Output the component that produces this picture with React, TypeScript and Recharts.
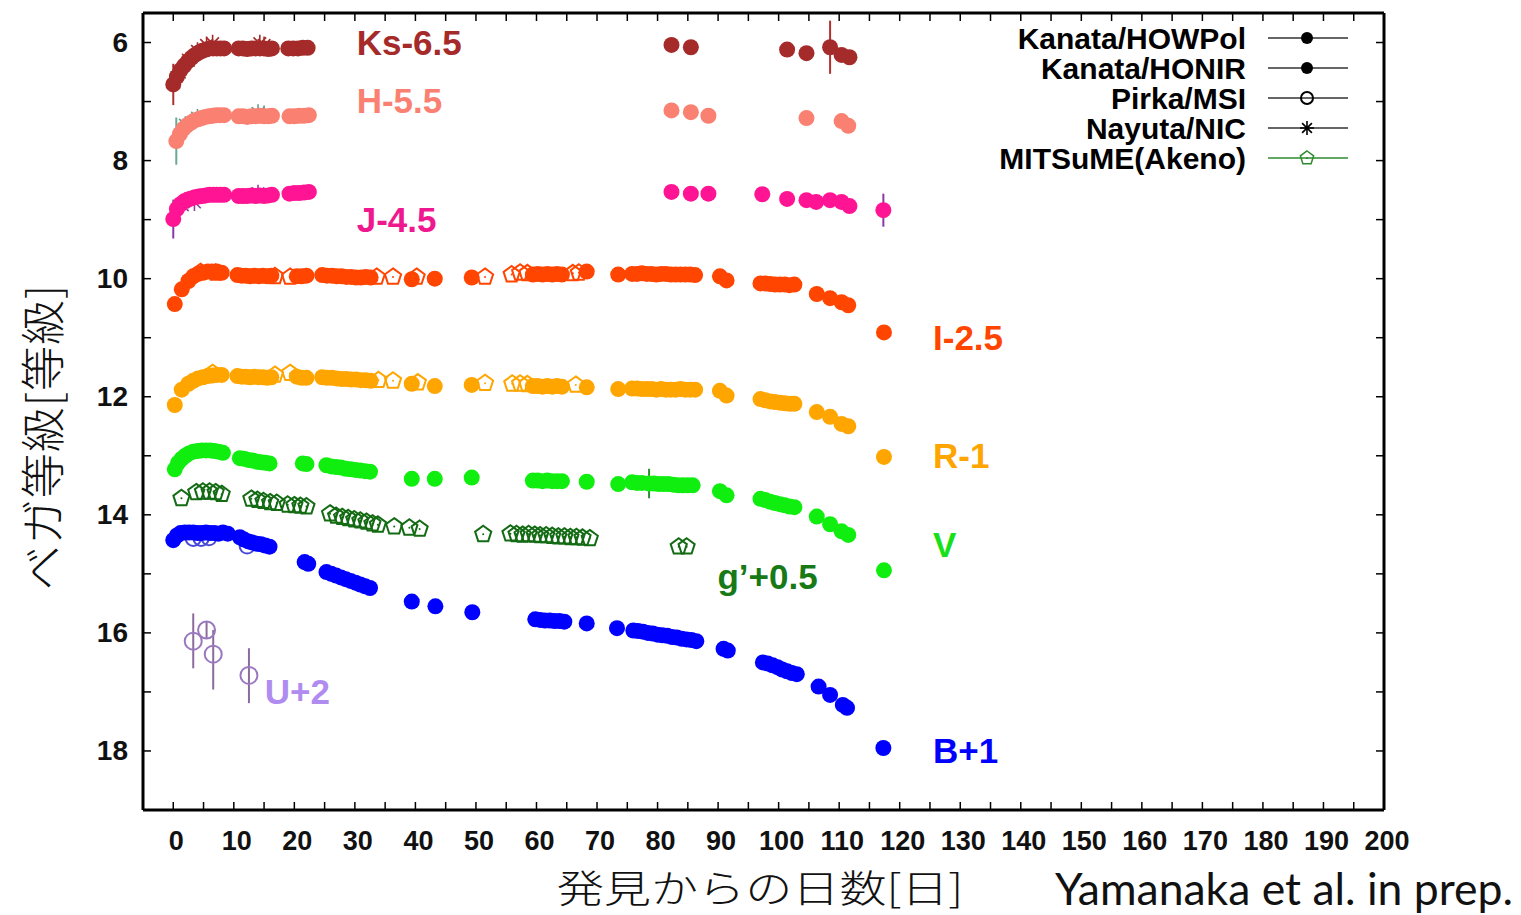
import React from 'react';
import { ScatterChart, Scatter, XAxis, YAxis, ErrorBar, ReferenceDot } from 'recharts';

// [days since discovery, magnitude with offset, error (or low, high)]
const ksHonir = [
  [0, 6.71, 0.35], [0.6, 6.58], [1.2, 6.47], [1.8, 6.39], [2.4, 6.32], [3.0, 6.26], [3.6, 6.21],
  [4.2, 6.17], [4.8, 6.14], [5.4, 6.12], [6.0, 6.1], [6.6, 6.1], [7.2, 6.1], [7.8, 6.1], [8.4, 6.1],
  [10.8, 6.1], [11.5, 6.1], [12.2, 6.11], [12.9, 6.1], [13.6, 6.1], [14.3, 6.1], [15.0, 6.1], [15.7, 6.11], [16.3, 6.1],
  [19.0, 6.1], [19.8, 6.1], [20.6, 6.1], [21.4, 6.09], [22.2, 6.09],
  [82.3, 6.04], [85.5, 6.08], [101.4, 6.12], [104.6, 6.18], [108.5, 6.08, 0.45], [110.4, 6.21], [111.7, 6.25],
];
const ksNic = [[1.0, 6.5], [2.5, 6.3], [4.0, 6.15], [5.5, 6.05], [6.5, 6.02], [14.3, 6.02], [15.0, 6.05]];

const hHonir = [
  [0.5, 7.67, 0.4], [1.1, 7.55], [1.7, 7.46], [2.3, 7.4], [2.9, 7.36], [3.5, 7.32], [4.1, 7.3], [4.7, 7.28],
  [5.3, 7.26], [5.9, 7.25], [6.5, 7.24], [7.1, 7.23], [7.7, 7.23], [8.4, 7.23],
  [10.8, 7.25], [11.5, 7.25], [12.2, 7.26], [12.9, 7.25], [13.6, 7.25], [14.3, 7.24], [15.0, 7.25], [15.7, 7.25], [16.3, 7.24],
  [19.2, 7.25], [20.0, 7.25], [20.8, 7.24], [21.6, 7.24], [22.4, 7.23],
  [82.3, 7.15], [85.5, 7.18], [88.4, 7.24], [104.6, 7.28], [110.4, 7.33], [111.5, 7.41, 0.08],
];
const hNic = [[2.0, 7.4], [4.0, 7.28], [14.0, 7.2], [15.0, 7.22]];

const jHonir = [
  [0, 8.99, 0.33], [0.6, 8.82], [1.2, 8.74], [1.8, 8.69], [2.4, 8.66], [3.0, 8.64], [3.6, 8.62], [4.2, 8.61],
  [4.8, 8.6], [5.4, 8.59], [6.0, 8.58], [6.6, 8.58], [7.2, 8.58], [7.8, 8.58], [8.4, 8.58],
  [10.8, 8.6], [11.5, 8.6], [12.2, 8.6], [12.9, 8.59], [13.6, 8.6], [14.3, 8.59], [15.0, 8.6], [15.7, 8.59], [16.3, 8.58],
  [19.2, 8.56], [20.0, 8.55], [20.8, 8.55], [21.6, 8.54], [22.4, 8.53],
  [82.3, 8.53], [85.5, 8.56], [88.4, 8.56], [97.3, 8.57], [101.4, 8.65], [104.6, 8.67], [106.2, 8.7],
  [108.5, 8.67], [110.4, 8.7], [111.7, 8.77], [117.3, 8.84, 0.28],
];
const jNic = [[1.5, 8.75], [3.5, 8.7], [14.0, 8.56]];

const iHowpol = [
  [0.25, 10.43], [1.4, 10.18], [2.5, 10.04], [3.3, 9.96], [4.1, 9.92], [4.9, 9.9], [5.7, 9.88], [6.4, 9.88], [7.2, 9.88], [8.0, 9.9],
  [10.6, 9.94], [11.3, 9.95], [12.0, 9.95], [12.7, 9.96], [13.4, 9.95], [14.1, 9.96], [14.8, 9.95], [15.5, 9.96], [16.2, 9.95],
  [20.4, 9.96], [21.2, 9.96], [22.0, 9.95],
  [24.6, 9.94], [25.4, 9.95], [26.2, 9.95], [27.0, 9.96], [27.8, 9.96], [28.6, 9.97], [29.4, 9.97], [30.2, 9.98], [31.0, 9.98], [31.8, 9.97], [32.6, 9.98],
  [39.4, 10.01], [43.2, 10.0], [49.3, 9.98],
  [59.4, 9.93], [60.2, 9.92], [61.0, 9.93], [61.8, 9.92], [62.6, 9.93], [63.4, 9.92], [64.2, 9.93], [68.3, 9.88], [73.5, 9.93],
  [75.8, 9.92], [76.6, 9.92], [77.4, 9.91], [78.2, 9.92], [79.0, 9.92], [79.8, 9.93], [80.6, 9.92], [81.4, 9.92],
  [82.2, 9.93], [83.0, 9.93], [83.8, 9.93], [84.6, 9.93], [85.4, 9.93], [86.2, 9.94],
  [90.3, 9.96], [91.4, 10.03],
  [97.0, 10.08], [97.8, 10.08], [98.6, 10.09], [99.4, 10.1], [100.2, 10.1], [101.0, 10.1], [101.8, 10.11], [102.6, 10.1],
  [106.3, 10.26], [108.5, 10.33], [110.4, 10.4], [111.5, 10.45], [117.4, 10.91],
];
const iMitsume = [
  [4.5, 9.89], [7.0, 9.9], [16.8, 9.96], [19.3, 9.97], [33.6, 9.97], [36.3, 9.97], [40.2, 9.97], [51.5, 9.97],
  [55.9, 9.93], [57.3, 9.9], [58.5, 9.91], [66.0, 9.91], [67.0, 9.9],
];

const rHowpol = [
  [0.25, 12.14], [1.4, 11.88], [2.5, 11.78], [3.3, 11.73], [4.1, 11.69], [4.9, 11.67], [5.7, 11.65], [6.4, 11.64], [7.2, 11.63], [8.0, 11.63],
  [10.6, 11.65], [11.3, 11.66], [12.0, 11.66], [12.7, 11.67], [13.4, 11.66], [14.1, 11.67], [14.8, 11.67], [15.5, 11.68], [16.2, 11.67],
  [20.4, 11.66], [21.2, 11.68], [22.0, 11.68],
  [24.6, 11.67], [25.4, 11.68], [26.2, 11.68], [27.0, 11.69], [27.8, 11.7], [28.6, 11.7], [29.4, 11.71], [30.2, 11.71], [31.0, 11.72], [31.8, 11.72], [32.6, 11.73],
  [39.4, 11.78], [43.2, 11.82], [49.3, 11.8],
  [59.4, 11.82], [60.2, 11.82], [61.0, 11.83], [61.8, 11.82], [62.6, 11.83], [63.4, 11.82], [64.2, 11.83], [68.3, 11.84], [73.5, 11.87],
  [75.8, 11.86], [76.6, 11.86], [77.4, 11.87], [78.2, 11.87], [79.0, 11.87], [79.8, 11.88], [80.6, 11.87], [81.4, 11.88],
  [82.2, 11.88], [83.0, 11.88], [83.8, 11.87], [84.6, 11.88], [85.4, 11.88], [86.2, 11.88],
  [90.3, 11.9], [91.4, 11.98],
  [97.0, 12.04], [97.8, 12.06], [98.6, 12.08], [99.4, 12.09], [100.2, 12.1], [101.0, 12.11], [101.8, 12.12], [102.6, 12.12],
  [106.3, 12.26], [108.5, 12.34], [110.4, 12.46], [111.5, 12.5], [117.4, 13.02],
];
const rMitsume = [
  [6.5, 11.6], [16.8, 11.63], [19.3, 11.6], [33.9, 11.72], [36.3, 11.73], [40.4, 11.76], [51.5, 11.77],
  [56.0, 11.78], [57.3, 11.78], [58.5, 11.79], [66.5, 11.8],
];

const vHowpol = [
  [0.25, 13.23], [0.8, 13.12], [1.4, 13.05], [2.0, 13.0], [2.6, 12.96], [3.3, 12.93], [4.0, 12.92], [4.7, 12.91],
  [5.4, 12.91], [6.1, 12.91], [6.8, 12.92], [7.5, 12.93], [8.2, 12.95],
  [11.0, 13.04], [11.7, 13.05], [12.4, 13.07], [13.1, 13.08], [13.8, 13.1], [14.5, 13.11], [15.2, 13.12], [15.9, 13.13],
  [21.4, 13.13], [22.0, 13.14],
  [25.3, 13.16], [26.1, 13.18], [26.9, 13.19], [27.7, 13.2], [28.5, 13.22], [29.3, 13.23], [30.1, 13.24], [30.9, 13.25], [31.7, 13.26], [32.5, 13.27],
  [39.4, 13.39], [43.2, 13.39], [49.3, 13.37],
  [59.4, 13.42], [60.2, 13.42], [61.0, 13.43], [61.8, 13.42], [62.6, 13.43], [63.4, 13.43], [64.2, 13.43], [68.3, 13.44], [73.5, 13.48],
  [75.8, 13.45], [76.6, 13.46], [77.4, 13.46], [78.6, 13.47, 0.25], [79.4, 13.47], [80.2, 13.48], [81.0, 13.48], [81.8, 13.48],
  [82.6, 13.49], [83.4, 13.5], [84.2, 13.5], [85.0, 13.5], [85.8, 13.5],
  [90.3, 13.6], [91.4, 13.67],
  [97.0, 13.73], [97.8, 13.75], [98.6, 13.78], [99.4, 13.8], [100.2, 13.82], [101.0, 13.84], [101.8, 13.86], [102.6, 13.87],
  [106.3, 14.03], [108.5, 14.16], [110.4, 14.28], [111.5, 14.34], [117.4, 14.94],
];

const gMitsume = [
  [1.35, 13.72], [3.8, 13.62], [4.9, 13.61], [6.0, 13.61], [7.0, 13.62], [8.0, 13.65],
  [12.9, 13.73], [13.9, 13.75], [14.9, 13.77], [16.0, 13.79], [17.1, 13.8],
  [18.9, 13.83], [20.0, 13.84], [21.0, 13.85], [22.0, 13.86],
  [25.9, 13.98], [26.9, 14.02], [27.9, 14.04], [28.9, 14.06], [29.9, 14.08], [30.9, 14.1], [31.9, 14.12], [32.9, 14.15], [33.8, 14.17],
  [36.5, 14.2], [39.0, 14.22], [40.7, 14.24], [51.2, 14.33],
  [55.7, 14.32], [56.7, 14.33], [57.7, 14.34], [58.7, 14.33], [59.7, 14.34], [60.6, 14.35], [61.6, 14.35], [62.6, 14.36],
  [63.6, 14.37], [64.6, 14.37], [65.6, 14.38], [66.6, 14.38], [67.6, 14.39], [68.8, 14.4],
  [83.5, 14.54], [84.8, 14.54],
];

const bHowpol = [
  [0, 14.43], [0.6, 14.35], [1.2, 14.31], [1.9, 14.3], [2.6, 14.3], [3.3, 14.3], [4.0, 14.31], [4.7, 14.31],
  [5.4, 14.3], [6.1, 14.31], [6.8, 14.31], [7.5, 14.32], [8.2, 14.3], [9.0, 14.32],
  [11.0, 14.38], [11.7, 14.42], [12.4, 14.45], [13.1, 14.47], [13.8, 14.49], [14.5, 14.5], [15.2, 14.52], [15.9, 14.54],
  [21.7, 14.8], [22.3, 14.83],
  [25.3, 14.97], [26.1, 15.0], [26.9, 15.03], [27.7, 15.06], [28.5, 15.09], [29.3, 15.12], [30.1, 15.15], [30.9, 15.18], [31.7, 15.21], [32.5, 15.24],
  [39.4, 15.47], [43.3, 15.55], [49.4, 15.65],
  [59.8, 15.77], [60.6, 15.78], [61.4, 15.79], [62.2, 15.79], [63.0, 15.8], [63.8, 15.8], [64.6, 15.81], [68.3, 15.84], [73.3, 15.92],
  [76.0, 15.96], [76.8, 15.97], [77.6, 15.98], [78.4, 16.0], [79.2, 16.01], [80.0, 16.03], [80.8, 16.04], [81.6, 16.05],
  [82.4, 16.07], [83.2, 16.08], [84.0, 16.1], [84.8, 16.11], [85.6, 16.12], [86.4, 16.14],
  [90.9, 16.27], [91.6, 16.3],
  [97.4, 16.5], [98.2, 16.52], [99.0, 16.55], [99.8, 16.58], [100.6, 16.62], [101.4, 16.65], [102.2, 16.68], [103.0, 16.7],
  [106.6, 16.91], [108.5, 17.05], [110.6, 17.22], [111.3, 17.27], [117.3, 17.95],
];
const bPirka = [[3.3, 14.4], [4.6, 14.4], [5.9, 14.39], [12.2, 14.53]];

const uPirka = [[3.3, 16.14, 0.47, 0.46], [5.5, 15.95, 0.15, 0.15], [6.6, 16.36, 0.41, 0.6], [12.5, 16.72, 0.46, 0.47]];

const dayTicks = [0, 5, 10, 15, 20, 25, 30, 35, 40, 45, 50, 55, 60, 65, 70, 75, 80, 85, 90, 95, 100,
  105, 110, 115, 120, 125, 130, 135, 140, 145, 150, 155, 160, 165, 170, 175, 180, 185, 190, 195, 200];
const magTicks = [6, 7, 8, 9, 10, 11, 12, 13, 14, 15, 16, 17, 18];

const bandNames = ['Ks-6.5', 'H-5.5', 'J-4.5', 'I-2.5', 'R-1', 'V', 'g\u2019+0.5', 'U+2', 'B+1'];
const bandDays = [30.3, 30.3, 30.3, 125.5, 125.5, 125.5, 89.9, 15.1, 125.5];
const bandMags = [6.0, 6.99, 8.99, 10.99, 12.99, 14.51, 15.05, 17.0, 18.0];

const legendNames = ['Kanata/HOWPol', 'Kanata/HONIR', 'Pirka/MSI', 'Nayuta/NIC', 'MITSuME(Akeno)'];

const C = {
  ks: '#a52a2a', h: '#fa8072', j: '#ff1493', i: '#ff4500', r: '#ffa500',
  v: '#10ee10', g: '#136b13', b: '#0000ff', u: '#9b7fc6',
};
const bandColors = [C.ks, C.h, '#f0188f', C.i, C.r, '#18e018', '#177a17', '#b08cf0', C.b];

const rows = (pts: number[][]) =>
  pts.map(([d, m, lo = 0, hi]) => ({ d, m, e: hi === undefined ? lo : [lo, hi] }));

const SANS = '"Liberation Sans", Arial, Helvetica, sans-serif';
const CJK = '"Noto Sans CJK JP", sans-serif';

const dot = (fill: string, r = 8) => (p: any) => <circle cx={p.cx} cy={p.cy} r={r} fill={fill} />;
const ring = (stroke: string, r = 7.5) => (p: any) => (
  <circle cx={p.cx} cy={p.cy} r={r} fill="none" stroke={stroke} strokeWidth={2} />
);
const pentagon = (stroke: string, r = 8.5, w = 2) => (p: any) => {
  const pts = [0, 1, 2, 3, 4]
    .map((k) => {
      const a = ((-90 + 72 * k) * Math.PI) / 180;
      return `${p.cx + r * Math.cos(a)},${p.cy + r * Math.sin(a)}`;
    })
    .join(' ');
  return (
    <g>
      <polygon points={pts} fill="none" stroke={stroke} strokeWidth={w} />
      <circle cx={p.cx} cy={p.cy} r={1} fill={stroke} />
    </g>
  );
};
const star = (stroke: string, s = 8) => (p: any) => (
  <path
    d={`M${p.cx - s},${p.cy}h${2 * s}M${p.cx},${p.cy - s}v${2 * s}M${p.cx - s * 0.7},${p.cy - s * 0.7}l${1.4 * s},${1.4 * s}M${p.cx - s * 0.7},${p.cy + s * 0.7}l${1.4 * s},${-1.4 * s}`}
    stroke={stroke}
    strokeWidth={1.6}
    fill="none"
  />
);

const series = [
  { data: ksNic, shape: star(C.ks, 9), err: C.ks },
  { data: hNic, shape: star('#5f9f8f', 9), err: C.h },
  { data: jNic, shape: star('#9040a0', 9), err: C.j },
  { data: ksHonir, shape: dot(C.ks), err: '#b03030' },
  { data: hHonir, shape: dot(C.h), err: '#6aa898' },
  { data: jHonir, shape: dot(C.j), err: '#8a3aa8' },
  { data: iHowpol, shape: dot(C.i), err: C.i },
  { data: iMitsume, shape: pentagon(C.i), err: C.i },
  { data: rHowpol, shape: dot(C.r), err: C.r },
  { data: rMitsume, shape: pentagon(C.r), err: C.r },
  { data: vHowpol, shape: dot(C.v), err: '#2e8b2e' },
  { data: gMitsume, shape: pentagon(C.g), err: C.g },
  { data: bPirka, shape: ring('#4a4ad8'), err: C.b },
  { data: bHowpol, shape: dot(C.b), err: C.b },
  { data: uPirka, shape: ring('#9a78c0', 8.5), err: '#8c6a9c' },
];

const legendMarkers = [
  dot('#000', 6),
  dot('#000', 6),
  ring('#000', 6),
  star('#000', 7),
  pentagon('#2e8b2e', 7, 1.5),
];

const TICK_LEN = 8;

const BottomTick = (p: any) => (
  <g>
    <line x1={p.x} y1={p.y} x2={p.x} y2={p.y - TICK_LEN} stroke="#000" strokeWidth={1.5} />
    {p.payload.value % 10 === 0 && (
      <text x={p.x + 3} y={p.y + 31} textAnchor="middle" dominantBaseline="central"
        fontFamily={SANS} fontWeight="bold" fontSize={27} fill="#111">
        {p.payload.value}
      </text>
    )}
  </g>
);
const TopTick = (p: any) => (
  <line x1={p.x} y1={p.y} x2={p.x} y2={p.y + TICK_LEN} stroke="#000" strokeWidth={1.5} />
);
const LeftTick = (p: any) => (
  <g>
    <line x1={p.x} y1={p.y} x2={p.x + TICK_LEN} y2={p.y} stroke="#000" strokeWidth={1.5} />
    {p.payload.value % 2 === 0 && (
      <text x={p.x - 15} y={p.y} textAnchor="end" dominantBaseline="central"
        fontFamily={SANS} fontWeight="bold" fontSize={28} fill="#111">
        {p.payload.value}
      </text>
    )}
  </g>
);
const RightTick = (p: any) => (
  <line x1={p.x} y1={p.y} x2={p.x - TICK_LEN} y2={p.y} stroke="#000" strokeWidth={1.5} />
);

const frame = { stroke: '#000', strokeWidth: 3 };

export default function App() {
  return (
    <div style={{ position: 'relative', width: 1513, height: 907 }}>
      <ScatterChart width={1513} height={907} margin={{ top: 4, right: 127, bottom: 45, left: 0 }}>
        <XAxis xAxisId="b" type="number" dataKey="d" domain={[-5, 200]} ticks={dayTicks} interval={0}
          allowDataOverflow tickSize={0} tickMargin={0} tickLine={false} axisLine={frame} height={60}
          tick={(p: any) => <BottomTick {...p} />} />
        <XAxis xAxisId="t" orientation="top" type="number" dataKey="d" domain={[-5, 200]} ticks={dayTicks}
          interval={0} allowDataOverflow tickSize={0} tickMargin={0} tickLine={false} axisLine={frame} height={1}
          tick={(p: any) => <TopTick {...p} />} />
        <YAxis yAxisId="l" type="number" dataKey="m" domain={[5.5, 19]} reversed ticks={magTicks} interval={0}
          allowDataOverflow tickSize={0} tickMargin={0} tickLine={false} axisLine={frame} width={135}
          tick={(p: any) => <LeftTick {...p} />} />
        <YAxis yAxisId="r" orientation="right" type="number" dataKey="m" domain={[5.5, 19]} reversed
          ticks={magTicks} interval={0} allowDataOverflow tickSize={0} tickMargin={0} tickLine={false}
          axisLine={frame} width={10} tick={(p: any) => <RightTick {...p} />} />

        {series.map((s, idx) => (
          <Scatter key={idx} xAxisId="b" yAxisId="l" data={rows(s.data)} shape={s.shape}
            isAnimationActive={false}>
            <ErrorBar dataKey="e" direction="y" width={0} stroke={s.err} strokeWidth={2}
              isAnimationActive={false} />
          </Scatter>
        ))}

        {bandNames.map((name, idx) => (
          <ReferenceDot key={name} xAxisId="b" yAxisId="l" x={bandDays[idx]} y={bandMags[idx]} r={0}
            fill="none" stroke="none"
            label={(p: any) => (
              <text x={p.viewBox.x} y={p.viewBox.y} dominantBaseline="central" fontFamily={SANS}
                fontWeight="bold" fontSize={35} fill={bandColors[idx]}>
                {name}
              </text>
            )} />
        ))}
      </ScatterChart>

      <svg width={1513} height={907} style={{ position: 'absolute', left: 0, top: 0, pointerEvents: 'none' }}>
        {legendNames.map((name, idx) => {
          const y = 30 + idx * 30;
          return (
            <g key={name}>
              <text x={1238} y={y} textAnchor="end" dominantBaseline="central" fontFamily={SANS}
                fontWeight="bold" fontSize={30} fill="#000">
                {name}
              </text>
              <line x1={1260} x2={1340} y1={y} y2={y} stroke={idx === 4 ? '#2e8b2e' : '#333'} strokeWidth={1.5} />
              {legendMarkers[idx]({ cx: 1299, cy: y })}
            </g>
          );
        })}
        <text x={32} y={429} transform="rotate(-90, 32, 429)" textAnchor="middle" dominantBaseline="central"
          fontFamily={CJK} fontWeight={300} fontSize={45} letterSpacing={1} fill="#111">
          ベガ等級[等級]
        </text>
        <g transform="translate(752, 894) scale(1.24, 1)">
          <text x={0} y={0} textAnchor="middle" fontFamily={CJK} fontWeight={300} fontSize={38} fill="#111">
            発見からの日数[日]
          </text>
        </g>
        <text x={1047} y={879} dominantBaseline="central" fontFamily='Lato, "Open Sans", sans-serif'
          fontSize={44.5} fill="#111">
          Yamanaka et al. in prep.
        </text>
      </svg>
    </div>
  );
}
